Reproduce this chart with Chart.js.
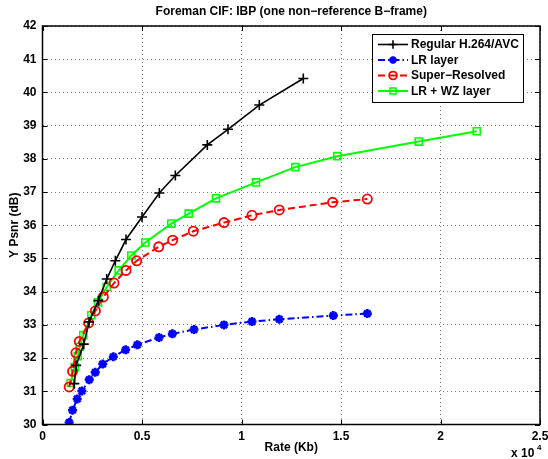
<!DOCTYPE html>
<html>
<head>
<meta charset="utf-8">
<script src="https://cdn.jsdelivr.net/npm/chart.js@4/dist/chart.umd.min.js"></script>
<style>
  html, body { margin: 0; padding: 0; background: #fff; }
  #wrap { width: 548px; height: 459px; position: relative; }
</style>
</head>
<body>
<div id="wrap"><canvas id="c" width="548" height="459"></canvas></div>
<script>
// Rate-distortion curves, Foreman CIF, IBP coding
const chartTitle = 'Foreman CIF: IBP (one non\u2212reference B\u2212frame)';
const seriesNames = ['Regular H.264/AVC', 'LR layer', 'Super\u2212Resolved', 'LR + WZ layer'];

const rateH264 = [1600, 1690, 2075, 2340, 2804, 3226, 3660, 4196, 5001, 5871, 6676, 8282, 9322, 10895, 13105];
const psnrH264 = [31.23, 31.78, 32.42, 33.09, 33.73, 34.38, 34.93, 35.57, 36.25, 36.97, 37.50, 38.42, 38.89, 39.62, 40.42];

const rateLR = [1340, 1510, 1745, 1980, 2350, 2650, 3025, 3560, 4179, 4766, 5856, 6525, 7613, 9120, 10527, 11899, 14612, 16322];
const psnrLR = [30.06, 30.43, 30.77, 31.01, 31.35, 31.57, 31.82, 32.04, 32.25, 32.40, 32.62, 32.73, 32.86, 33.00, 33.10, 33.17, 33.28, 33.34];

const rateSR = [1340, 1510, 1680, 1850, 2320, 2655, 3058, 3593, 4196, 4733, 5840, 6540, 7578, 9120, 10527, 11899, 14578, 16322];
const psnrSR = [31.13, 31.60, 32.16, 32.50, 33.06, 33.42, 33.84, 34.26, 34.64, 34.93, 35.35, 35.55, 35.82, 36.08, 36.30, 36.46, 36.69, 36.79];

const rateWZ = [1417, 1618, 1770, 1870, 2051, 2454, 2789, 3226, 3829, 4464, 5166, 6475, 7346, 8719, 10729, 12703, 14814, 18905, 21819];
const psnrWZ = [31.25, 31.73, 32.06, 32.34, 32.69, 33.29, 33.68, 34.14, 34.64, 35.09, 35.48, 36.05, 36.35, 36.81, 37.29, 37.75, 38.08, 38.52, 38.83];

const xTickValues = [0, 5000, 10000, 15000, 20000, 25000];
const yTickValues = [30, 31, 32, 33, 34, 35, 36, 37, 38, 39, 40, 41, 42];

const FONT = '"Liberation Sans", Arial, Helvetica, sans-serif';
const FSIZE = 12;

function pts(xs, ys) { return xs.map((x, i) => ({ x: x, y: ys[i] })); }

const datasets = [
  { label: seriesNames[0], data: pts(rateH264, psnrH264), borderColor: '#000000', backgroundColor: '#000000',
    borderWidth: 1.6, pointStyle: 'cross', pointRadius: 5, pointBorderWidth: 1.6, borderDash: [] },
  { label: seriesNames[1], data: pts(rateLR, psnrLR), borderColor: '#0000ff', backgroundColor: '#0000ff',
    borderWidth: 2, pointStyle: 'star', pointRadius: 4.5, pointBorderWidth: 2.6, borderDash: [7, 3, 1.5, 3] },
  { label: seriesNames[2], data: pts(rateSR, psnrSR), borderColor: '#ff0000', backgroundColor: 'rgba(0,0,0,0)',
    borderWidth: 2, pointStyle: 'circle', pointRadius: 4.6, pointBorderWidth: 1.8, borderDash: [7, 4] },
  { label: seriesNames[3], data: pts(rateWZ, psnrWZ), borderColor: '#00ff00', backgroundColor: 'rgba(0,0,0,0)',
    borderWidth: 2, pointStyle: 'rect', pointRadius: 5, pointBorderWidth: 1.6, borderDash: [] }
];

// Box, inward ticks, title, legend and exponent label
const decorations = {
  id: 'decorations',
  beforeDatasetsDraw(chart) {
    const { ctx, chartArea: a, scales: { x, y } } = chart;
    ctx.save();
    ctx.strokeStyle = '#000';
    ctx.lineWidth = 1;
    ctx.setLineDash([]);
    const tl = 5;
    x.ticks.forEach(t => {
      const px = Math.round(x.getPixelForValue(t.value)) + 0.5;
      ctx.beginPath();
      ctx.moveTo(px, a.bottom); ctx.lineTo(px, a.bottom - tl);
      ctx.moveTo(px, a.top); ctx.lineTo(px, a.top + tl);
      ctx.stroke();
    });
    y.ticks.forEach(t => {
      const py = Math.round(y.getPixelForValue(t.value)) + 0.5;
      ctx.beginPath();
      ctx.moveTo(a.left, py); ctx.lineTo(a.left + tl, py);
      ctx.moveTo(a.right, py); ctx.lineTo(a.right - tl, py);
      ctx.stroke();
    });
    ctx.restore();
  },
  afterDraw(chart) {
    const { ctx, chartArea: a } = chart;
    ctx.save();
    // axes box
    ctx.strokeStyle = '#000';
    ctx.lineWidth = 1.5;
    ctx.setLineDash([]);
    ctx.strokeRect(a.left, a.top, a.right - a.left, a.bottom - a.top);

    // title
    ctx.fillStyle = '#000';
    ctx.font = 'bold ' + FSIZE + 'px ' + FONT;
    ctx.textAlign = 'center';
    ctx.textBaseline = 'middle';
    ctx.fillText(chartTitle, (a.left + a.right) / 2, 12);

    // exponent
    ctx.textAlign = 'left';
    ctx.textBaseline = 'alphabetic';
    ctx.font = 'bold ' + FSIZE + 'px ' + FONT;
    ctx.fillText('x 10', 511, 457);
    ctx.font = 'bold 8px ' + FONT;
    ctx.fillText('4', 537, 450);

    // legend
    const lx = 372, ly = 34, lw = 151, lh = 68;
    ctx.fillStyle = '#fff';
    ctx.fillRect(lx, ly, lw, lh);
    ctx.lineWidth = 1;
    ctx.strokeStyle = '#000';
    ctx.strokeRect(lx + 0.5, ly + 0.5, lw, lh);
    const rows = [44.5, 60, 75.5, 91];
    chart.data.datasets.forEach((ds, i) => {
      const yy = rows[i];
      ctx.save();
      ctx.strokeStyle = ds.borderColor;
      ctx.lineWidth = ds.borderWidth;
      ctx.setLineDash(ds.borderDash || []);
      ctx.beginPath();
      ctx.moveTo(378, yy); ctx.lineTo(408, yy);
      ctx.stroke();
      ctx.setLineDash([]);
      ctx.fillStyle = ds.backgroundColor;
      ctx.lineWidth = ds.pointBorderWidth;
      Chart.helpers.drawPoint(ctx, { pointStyle: ds.pointStyle, radius: ds.pointRadius * 0.85, rotation: 0, borderWidth: ds.pointBorderWidth }, 393, yy);
      ctx.restore();
      ctx.fillStyle = '#000';
      ctx.font = 'bold ' + FSIZE + 'px ' + FONT;
      ctx.textAlign = 'left';
      ctx.textBaseline = 'middle';
      ctx.fillText(ds.label, 411, yy + 0.5);
    });
    ctx.restore();
  }
};

new Chart(document.getElementById('c'), {
  type: 'scatter',
  data: { datasets: datasets.map(d => Object.assign({ showLine: true, tension: 0, pointHoverRadius: d.pointRadius }, d)) },
  options: {
    responsive: false,
    animation: false,
    events: [],
    layout: { padding: { left: 0, right: 8, top: 26, bottom: 0 } },
    plugins: { legend: { display: false }, tooltip: { enabled: false }, title: { display: false } },
    scales: {
      x: {
        type: 'linear', min: 0, max: 25000,
        afterBuildTicks: s => { s.ticks = xTickValues.map(v => ({ value: v })); },
        afterFit: s => { s.height = 34.5; s.paddingLeft = 0; s.paddingRight = 0; },
        ticks: { color: '#000', font: { family: FONT, size: FSIZE, weight: 'bold' }, padding: 5,
                 maxRotation: 0, autoSkip: false, callback: v => String(v / 10000) },
        grid: { drawTicks: false, color: '#7a7a7a', lineWidth: 1 },
        border: { display: false, dash: [1, 3] },
        title: { display: true, text: 'Rate (Kb)', color: '#000', font: { family: FONT, size: FSIZE, weight: 'bold' },
                 padding: { top: 0, bottom: 4 } }
      },
      y: {
        type: 'linear', min: 30, max: 42,
        afterBuildTicks: s => { s.ticks = yTickValues.map(v => ({ value: v })); },
        afterFit: s => { s.width = 42.5; s.paddingTop = 0; s.paddingBottom = 0; },
        ticks: { color: '#000', font: { family: FONT, size: FSIZE, weight: 'bold' }, padding: 6, autoSkip: false },
        grid: { drawTicks: false, color: '#7a7a7a', lineWidth: 1 },
        border: { display: false, dash: [1, 3] },
        title: { display: true, text: 'Y Psnr (dB)', color: '#000', font: { family: FONT, size: FSIZE, weight: 'bold' },
                 padding: { top: 7, bottom: 0 } }
      }
    }
  },
  plugins: [decorations]
});
</script>
</body>
</html>
